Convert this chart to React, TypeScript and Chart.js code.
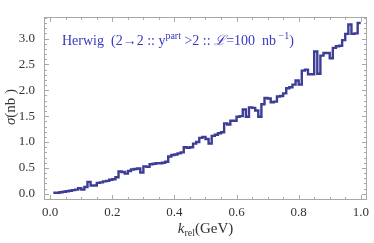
import React, { useEffect, useRef } from "react";
import { Chart, registerables } from "chart.js";
Chart.register(...registerables);

// Histogram bin edges (GeV) and cross-section values (nb)
const binEdges = [
  0.01, 0.02, 0.03, 0.04, 0.05, 0.06, 0.07, 0.08, 0.09, 0.10,
  0.11, 0.12, 0.13, 0.14, 0.15, 0.16, 0.17, 0.18, 0.19, 0.20,
  0.21, 0.22, 0.23, 0.24, 0.25, 0.26, 0.27, 0.28, 0.29, 0.30,
  0.31, 0.32, 0.33, 0.34, 0.35, 0.36, 0.37, 0.38, 0.39, 0.40,
  0.41, 0.42, 0.43, 0.44, 0.45, 0.46, 0.47, 0.48, 0.49, 0.50,
  0.51, 0.52, 0.53, 0.54, 0.55, 0.56, 0.57, 0.58, 0.59, 0.60,
  0.61, 0.62, 0.63, 0.64, 0.65, 0.66, 0.67, 0.68, 0.69, 0.70,
  0.71, 0.72, 0.73, 0.74, 0.75, 0.76, 0.77, 0.78, 0.79, 0.80,
  0.81, 0.82, 0.83, 0.84, 0.85, 0.86, 0.87, 0.88, 0.89, 0.90,
  0.91, 0.92, 0.93, 0.94, 0.95, 0.96, 0.97, 0.98, 0.99, 1.00,
];

const sigmaValues = [
  0.02, 0.02, 0.03, 0.04, 0.05, 0.06, 0.07, 0.08, 0.11, 0.08,
  0.13, 0.23, 0.16, 0.16, 0.21, 0.22, 0.24, 0.25, 0.27, 0.28,
  0.32, 0.43, 0.42, 0.39, 0.44, 0.47, 0.48, 0.49, 0.41, 0.53,
  0.52, 0.57, 0.58, 0.59, 0.59, 0.60, 0.62, 0.72, 0.75, 0.76,
  0.78, 0.80, 0.90, 0.89, 0.90, 0.97, 1.00, 1.08, 1.10, 1.06,
  0.97, 1.12, 1.14, 1.17, 1.19, 1.36, 1.34, 1.41, 1.41, 1.49,
  1.50, 1.63, 1.49, 1.67, 1.66, 1.61, 1.49, 1.73, 1.85, 1.84,
  1.77, 1.78, 1.88, 1.89, 1.94, 2.04, 2.06, 2.11, 2.19, 2.11,
  2.38, 2.40, 2.31, 2.31, 2.75, 2.32, 2.67, 2.72, 2.72, 2.62,
  2.82, 2.85, 2.86, 2.97, 3.09, 3.27, 3.09, 3.10, 3.30,
];

const xTicks = [0.0, 0.2, 0.4, 0.6, 0.8, 1.0];
const yTicks = [0.0, 0.5, 1.0, 1.5, 2.0, 2.5, 3.0];
const xMinorStep = 0.05;
const yMinorStep = 0.1;

const SERIF = "'Liberation Serif', 'Times New Roman', serif";
const FRAME_COLOR = "#a8a8a8";
const TEXT_COLOR = "#333333";
const LINE_COLOR = "#3d3d98";
const LEGEND_COLOR = "#3838c4";

type Seg = { text: string; font: string; dy?: number };

function drawRich(ctx: CanvasRenderingContext2D, segs: Seg[], x: number, y: number, align: "left" | "center") {
  let total = 0;
  for (const s of segs) {
    ctx.font = s.font;
    total += ctx.measureText(s.text).width;
  }
  let cx = align === "center" ? x - total / 2 : x;
  ctx.textAlign = "left";
  ctx.textBaseline = "alphabetic";
  for (const s of segs) {
    ctx.font = s.font;
    ctx.fillText(s.text, cx, y + (s.dy || 0));
    cx += ctx.measureText(s.text).width;
  }
}

const framePlugin = {
  id: "framePlugin",
  afterDraw(chart: any) {
    const { ctx, chartArea, scales } = chart;
    const xs = scales.x;
    const ys = scales.y;
    const { left, right, top, bottom } = chartArea;
    ctx.save();
    ctx.strokeStyle = FRAME_COLOR;
    ctx.lineWidth = 1;
    ctx.strokeRect(Math.round(left) + 0.5, Math.round(top) + 0.5, Math.round(right - left) - 1, Math.round(bottom - top) - 1);

    const major = 5;
    const minor = 3;
    ctx.beginPath();
    const xMinorCount = Math.round((xTicks[xTicks.length - 1] - xTicks[0]) / xMinorStep);
    for (let i = 0; i <= xMinorCount; i++) {
      const v = xTicks[0] + i * xMinorStep;
      const isMajor = xTicks.some((t) => Math.abs(t - v) < 1e-6);
      const len = isMajor ? major : minor;
      const px = Math.round(xs.getPixelForValue(v)) + 0.5;
      ctx.moveTo(px, bottom);
      ctx.lineTo(px, bottom - len);
      ctx.moveTo(px, top);
      ctx.lineTo(px, top + len);
    }
    const yMinorCount = Math.round((ys.max - yTicks[0]) / yMinorStep);
    for (let i = -1; i <= yMinorCount; i++) {
      const v = yTicks[0] + i * yMinorStep;
      if (v < ys.min || v > ys.max) continue;
      const isMajor = yTicks.some((t) => Math.abs(t - v) < 1e-6);
      const len = isMajor ? major : minor;
      const py = Math.round(ys.getPixelForValue(v)) + 0.5;
      ctx.moveTo(left, py);
      ctx.lineTo(left + len, py);
      ctx.moveTo(right, py);
      ctx.lineTo(right - len, py);
    }
    ctx.stroke();

    // Legend annotation
    ctx.fillStyle = LEGEND_COLOR;
    const f = `14px ${SERIF}`;
    const fi = `italic 14px ${SERIF}`;
    const fs = `10px ${SERIF}`;
    drawRich(
      ctx,
      [
        { text: "Herwig  (2\u21922 :: y", font: f },
        { text: "part", font: fs, dy: -6 },
        { text: " >2 :: ", font: f },
        { text: "\u2112", font: fi },
        { text: "=100  nb", font: f },
        { text: " \u22121", font: fs, dy: -6 },
        { text: ")", font: f },
      ],
      left + 18,
      top + 28.5,
      "left"
    );

    // X axis title
    ctx.fillStyle = TEXT_COLOR;
    drawRich(
      ctx,
      [
        { text: "k", font: `italic 15px ${SERIF}` },
        { text: "rel", font: `10px ${SERIF}`, dy: 3 },
        { text: "(GeV)", font: `15px ${SERIF}` },
      ],
      (left + right) / 2,
      233,
      "center"
    );

    // Y axis title (rotated)
    ctx.save();
    ctx.translate(15, 107);
    ctx.rotate(-Math.PI / 2);
    drawRich(
      ctx,
      [
        { text: "\u03C3", font: `italic 15px ${SERIF}` },
        { text: "(nb )", font: `15px ${SERIF}` },
      ],
      0,
      0,
      "center"
    );
    ctx.restore();
    ctx.restore();
  },
};

export default function App() {
  const canvasRef = useRef<HTMLCanvasElement | null>(null);

  useEffect(() => {
    document.body.style.margin = "0";
    const canvas = canvasRef.current;
    if (!canvas) return;

    const points: { x: number; y: number }[] = [];
    for (let i = 0; i < sigmaValues.length; i++) {
      points.push({ x: binEdges[i], y: sigmaValues[i] });
      points.push({ x: binEdges[i + 1], y: sigmaValues[i] });
    }

    const chart = new Chart(canvas, {
      type: "line",
      data: {
        datasets: [
          {
            label: "Herwig",
            data: points,
            borderColor: LINE_COLOR,
            borderWidth: 2.4,
            pointRadius: 0,
            fill: false,
            tension: 0,
            borderJoinStyle: "miter",
          },
        ],
      },
      plugins: [framePlugin],
      options: {
        animation: false,
        responsive: false,
        devicePixelRatio: 1,
        layout: { padding: { top: 2, right: 5, left: 0, bottom: 0 } },
        plugins: {
          legend: { display: false },
          tooltip: { enabled: false },
          title: { display: false },
        },
        scales: {
          x: {
            type: "linear",
            min: -0.02,
            max: 1.02,
            afterBuildTicks: (s: any) => {
              s.ticks = xTicks.map((v) => ({ value: v }));
            },
            afterFit: (s: any) => {
              s.height = 43;
            },
            ticks: {
              autoSkip: false,
              maxRotation: 0,
              padding: 5,
              color: TEXT_COLOR,
              font: { family: SERIF, size: 13 },
              callback: (v: any) => Number(v).toFixed(1),
            },
            grid: { display: false, drawTicks: false },
            border: { display: false },
          },
          y: {
            type: "linear",
            min: -0.12,
            max: 3.42,
            afterBuildTicks: (s: any) => {
              s.ticks = yTicks.map((v) => ({ value: v }));
            },
            afterFit: (s: any) => {
              s.width = 44;
            },
            ticks: {
              autoSkip: false,
              padding: 9,
              color: TEXT_COLOR,
              font: { family: SERIF, size: 13 },
              callback: (v: any) => Number(v).toFixed(1),
            },
            grid: { display: false, drawTicks: false },
            border: { display: false },
          },
        },
      },
    });

    return () => {
      chart.destroy();
    };
  }, []);

  return (
    <div style={{ width: 374, height: 243, background: "#ffffff" }}>
      <canvas ref={canvasRef} width={374} height={243} style={{ display: "block" }} />
    </div>
  );
}
